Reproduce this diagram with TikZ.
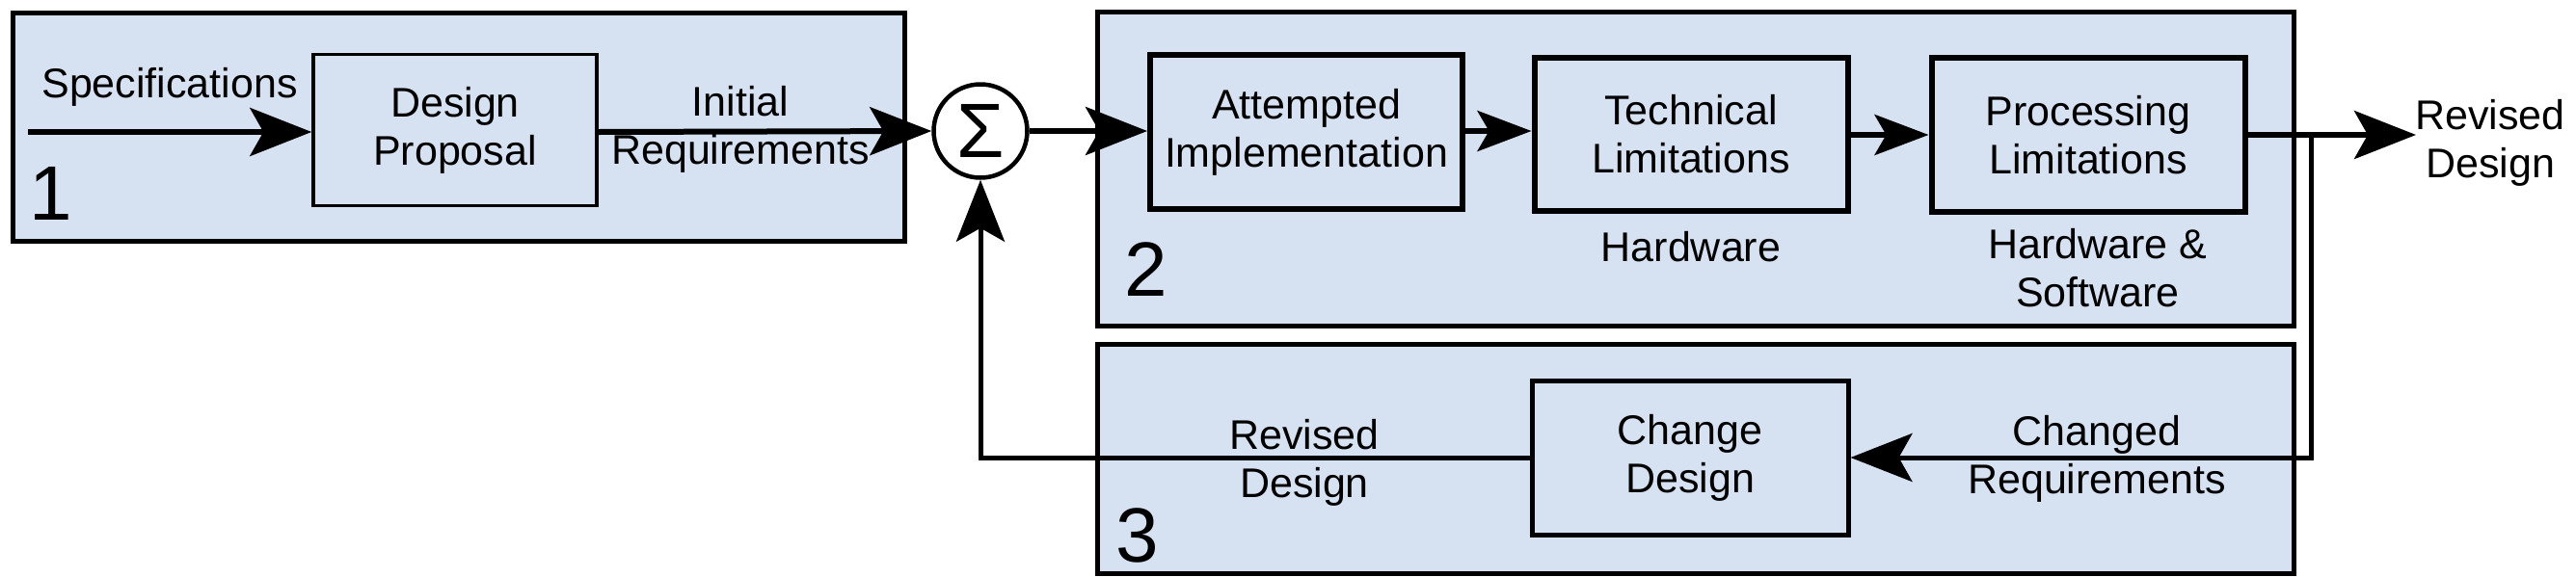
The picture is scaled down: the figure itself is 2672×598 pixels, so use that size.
\documentclass[tikz,border=0pt]{standalone}
\usepackage{fontspec}
\setmainfont{Liberation Sans}
\usetikzlibrary{arrows.meta}
\definecolor{panel}{RGB}{214,225,242}
\begin{document}
\begin{tikzpicture}[x=1pt,y=-1pt,
  lbl/.style={align=center,inner sep=0pt,font=\fontsize{43}{50}\selectfont},
  digit/.style={anchor=base west,inner sep=0pt,font=\fontsize{80}{80}\selectfont},
  panelbox/.style={draw=black,line width=5pt,fill=panel},
  blockbox/.style={draw=black,line width=6pt,fill=panel,align=center,inner sep=0pt,
    minimum width=325pt,minimum height=159pt,font=\fontsize{43}{50}\selectfont},
  conn/.style={line width=6pt,-{Stealth[length=64pt,width=50pt,inset=14pt]}},
  smallconn/.style={line width=6pt,-{Stealth[length=56pt,width=42pt,inset=12pt]}},
  fbconn/.style={line width=5pt,-{Stealth[length=64pt,width=50pt,inset=14pt]}}
]
\useasboundingbox (0,0) rectangle (2672,598);

% panels
\path[panelbox] (13,13) rectangle (938,250);
\path[panelbox] (1138,12) rectangle (2379,338);
\path[panelbox] (1138,357) rectangle (2379,595);

% panel numbers
\node[digit] (n1) at (30,228) {1};
\node[digit] (n2) at (1166,307) {2};
\node[digit] (n3) at (1157,583) {3};

% blocks
\node[blockbox,line width=3.5pt,minimum width=294pt,minimum height=157pt] (prop) at (472,135) {Design\\Proposal};
\node[circle,draw=black,line width=4.5pt,fill=white,minimum size=97pt,inner sep=0pt] (sum) at (1017,136) {\fontsize{80}{80}\selectfont Σ};
\node[blockbox,minimum width=324pt,minimum height=160pt] (att) at (1355,137) {Attempted\\Implementation};
\node[blockbox] (tech) at (1754,139) {Technical\\Limitations};
\node[blockbox,minimum height=160pt] (proc) at (2166,140) {Processing\\Limitations};
\node[blockbox,line width=5pt,minimum width=328pt,minimum height=160pt] (chg) at (1753,475) {Change\\Design};

% labels
\node[lbl] (spec) at (176,90) {Specifications};
\node[lbl] (init) at (768,134) {Initial\\Requirements};
\node[lbl] (hw) at (1754,256) {Hardware};
\node[lbl] (hwsw) at (2176,278) {Hardware \&\\Software};
\node[lbl] (outlbl) at (2583,148) {Revised\\Design};
\node[lbl] (chgreq) at (2175,476) {Changed\\Requirements};
\node[lbl] (revlbl) at (1353,480) {Revised\\Design};

% coordinates
\coordinate (start) at (29,137);
\coordinate (out) at (2506,140);
\coordinate (split) at (2397,140);
\coordinate (corner) at (2397,475);

% connectors
\draw[conn] (start) -- (prop.west |- start);
\draw[conn] (prop.east |- start) -- (sum.west);
\draw[conn] (sum.east) -- (att.west |- sum.east);
\draw[smallconn] (att.east |- sum.east) -- (tech.west |- sum.east);
\draw[smallconn] (tech.east |- proc.east) -- (proc.west);
\draw[conn] (proc.east) -- (out);
\draw[fbconn] (split) -- (corner) -- (chg.east);
\draw[fbconn] (chg.west) -- (sum |- chg.west) -- (sum.south);
\end{tikzpicture}
\end{document}
